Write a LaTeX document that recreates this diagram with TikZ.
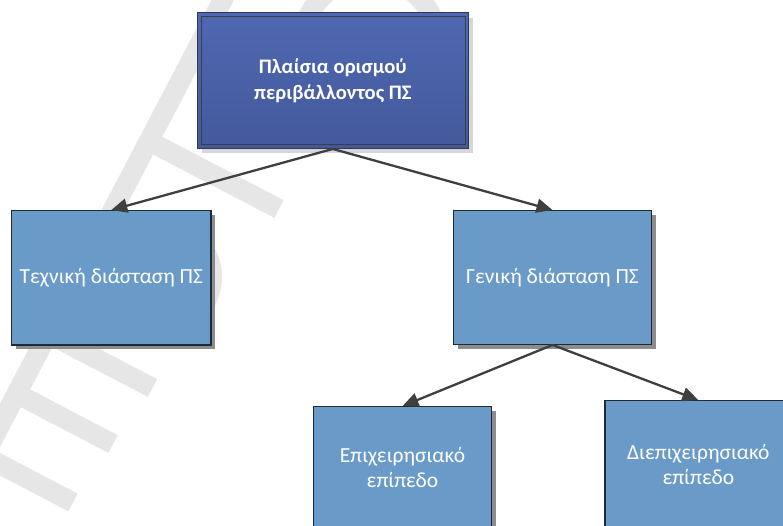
\documentclass[tikz,border=0pt]{standalone}
\usepackage{fontspec}
\setmainfont{Carlito}
\usetikzlibrary{arrows.meta,shadows}

\definecolor{wmgray}{HTML}{E6E6E6}
\definecolor{headtop}{HTML}{4F68B2}
\definecolor{headbot}{HTML}{43599B}
\definecolor{headline}{HTML}{2F3A52}
\definecolor{headinner}{HTML}{3A3F4A}
\definecolor{headshadow}{HTML}{D6D6D6}
\definecolor{boxfill}{HTML}{6A9BC8}
\definecolor{boxline}{HTML}{1E2A36}
\definecolor{boxshadow}{HTML}{8C8C8C}
\definecolor{arrowgray}{HTML}{3F3F3F}

\begin{document}
\begin{tikzpicture}[x=1pt,y=-1pt,
  wm/.style={draw=wmgray, line width=20pt, line cap=butt},
  headbox/.style={draw=headline, line width=1.3pt,
    top color=headtop, bottom color=headbot,
    general shadow={shadow xshift=5pt, shadow yshift=-5pt, fill=headshadow, opacity=1},
    text=white, font=\bfseries\fontsize{20.6}{25.7}\selectfont,
    align=center, inner sep=0pt},
  headinnerline/.style={draw=headinner, line width=1.2pt},
  dimbox/.style={draw=boxline, line width=1.3pt, fill=boxfill,
    general shadow={shadow xshift=4.5pt, shadow yshift=-4.5pt, fill=boxshadow, opacity=1},
    text=white, font=\fontsize{21.5}{25}\selectfont,
    align=center, inner sep=0pt},
  conn/.style={draw=arrowgray, line width=2.3pt,
    -{Triangle[length=16pt,width=14pt]}}
]
\useasboundingbox (0,0) rectangle (783,526);
\clip (0,0) rectangle (783,526);
\fill[white] (0,0) rectangle (783,526);

% faint background watermark strokes
\draw[wm] (-15,454) -- (229,-12);
\draw[wm] (48.2,333.5) -- (152.5,388);
\draw[wm] (16.8,393.7) -- (113,444);
\draw[wm] (-15.8,456) -- (73,502.5);
\draw[wm] (148.8,141) -- (279,209);
\draw[wm] (150,277) ellipse [x radius=62, y radius=56];
\draw[wm] (370,45) circle [radius=68];

% boxes
\node[headbox, minimum width=271pt, minimum height=135.6pt] (frame) at (332.8,80.5)
  {Πλαίσια ορισμού\\περιβάλλοντος ΠΣ};
\draw[headinnerline] ([shift={(5,4.6)}]frame.north west) rectangle ([shift={(-3.8,-4.3)}]frame.south east);

\node[dimbox, minimum width=199.3pt, minimum height=134.3pt] (tech) at (111.3,277.8)
  {Τεχνική διάσταση ΠΣ};
\node[dimbox, minimum width=198.4pt, minimum height=133.6pt] (gen) at (552.5,277.5)
  {Γενική διάσταση ΠΣ};
\node[dimbox, minimum width=178.4pt, minimum height=121pt] (ops) at (402.5,467.2)
  {Επιχειρησιακό\\επίπεδο};
\node[dimbox, minimum width=186.7pt, minimum height=128pt] (inter) at (698.3,464.7)
  {Διεπιχειρησιακό\\επίπεδο};

% connectors
\draw[conn] (frame.south) -- (tech.north);
\draw[conn] (frame.south) -- (gen.north);
\draw[conn] (gen.south) -- (ops.north);
\draw[conn] (gen.south) -- (inter.north);
\end{tikzpicture}
\end{document}
